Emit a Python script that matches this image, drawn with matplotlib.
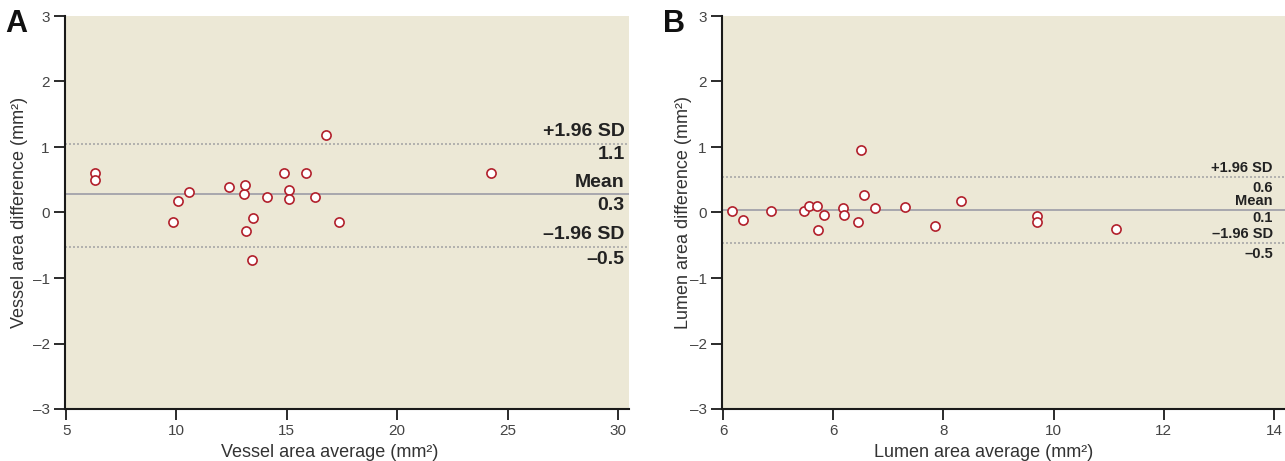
import matplotlib
matplotlib.use("Agg")
import matplotlib.pyplot as plt

# panel A: vessel area (Bland-Altman)
vessel_avg = [6.31, 6.31, 9.85, 10.07, 10.56, 12.37, 13.04, 13.11, 13.15, 13.46,
              13.44, 14.11, 14.89, 15.09, 15.09, 15.89, 16.28, 16.76, 17.35, 24.26]
vessel_diff = [0.60, 0.49, -0.15, 0.17, 0.32, 0.39, 0.29, 0.42, -0.28, -0.09,
               -0.72, 0.23, 0.60, 0.35, 0.21, 0.61, 0.24, 1.18, -0.15, 0.60]
vessel_mean, vessel_hi, vessel_lo = 0.28, 1.05, -0.52
vessel_xticks = [5, 10, 15, 20, 25, 30]
vessel_xticklabels = ["5", "10", "15", "20", "25", "30"]

# panel B: lumen area
lumen_avg = [4.16, 4.36, 4.87, 5.47, 5.56, 5.70, 5.72, 5.84, 6.18, 6.19,
             6.44, 6.50, 6.56, 6.76, 7.31, 7.85, 8.31, 9.70, 9.70, 11.13]
lumen_diff = [0.02, -0.11, 0.03, 0.02, 0.10, 0.10, -0.26, -0.04, 0.07, -0.04,
              -0.14, 0.95, 0.26, 0.07, 0.08, -0.20, 0.17, -0.05, -0.15, -0.25]
lumen_mean, lumen_hi, lumen_lo = 0.04, 0.54, -0.47
lumen_xticks = [4, 6, 8, 10, 12, 14]
lumen_xticklabels = ["6", "6", "8", "10", "12", "14"]

yticks = [-3, -2, -1, 0, 1, 2, 3]

sans = ["Liberation Sans", "DejaVu Sans"]
bg = "#ece8d6"
red = "#b2202c"

fig = plt.figure(figsize=(12.85, 4.61), dpi=100)
axA = fig.add_axes([65 / 1285, 52 / 461, 564 / 1285, 393 / 461])
axB = fig.add_axes([722 / 1285, 52 / 461, 563 / 1285, 393 / 461])


def draw(ax, xs, ys, mean, hi, lo, xlim, xticks, xticklabels, xlabel, ylabel,
         xtext, labels, label_y, fsize):
    ax.set_facecolor(bg)
    ax.axhline(mean, color="#a2a2aa", lw=1.3, zorder=1)
    ax.axhline(hi, color="#a8a8a8", lw=1.2, ls=(0, (1.2, 1.2)), zorder=1)
    ax.axhline(lo, color="#a8a8a8", lw=1.2, ls=(0, (1.2, 1.2)), zorder=1)
    ax.plot(xs, ys, "o", ms=6.6, mfc="white", mec=red, mew=1.2, zorder=3)
    for txt, y in zip(labels, label_y):
        ax.text(xtext, y, txt, ha="right", va="center", fontsize=fsize,
                fontweight="bold", family=sans, color="#222222")
    ax.set_xlim(*xlim)
    ax.set_ylim(-3, 3)
    ax.set_xticks(xticks)
    ax.set_xticklabels(xticklabels)
    ax.set_yticks(yticks)
    ax.set_yticklabels([str(t).replace("-", "\u2013") for t in yticks])
    for s in ["top", "right"]:
        ax.spines[s].set_visible(False)
    for s in ["left", "bottom"]:
        ax.spines[s].set_linewidth(1.5)
        ax.spines[s].set_color("#1a1a1a")
    ax.tick_params(direction="out", length=8, width=1.3, color="#1a1a1a",
                   labelsize=11, labelcolor="#444444", pad=3)
    for lab in ax.get_xticklabels() + ax.get_yticklabels():
        lab.set_family(sans)
    ax.set_xlabel(xlabel, fontsize=13, family=sans, color="#333333")
    ax.set_ylabel(ylabel, fontsize=13, family=sans, color="#333333")


draw(axA, vessel_avg, vessel_diff, vessel_mean, vessel_hi, vessel_lo,
     (4.95, 30.5), vessel_xticks, vessel_xticklabels,
     "Vessel area average (mm\u00b2)", "Vessel area difference (mm\u00b2)",
     30.3, ["+1.96 SD", "1.1", "Mean", "0.3", "\u20131.96 SD", "\u20130.5"],
     [1.24, 0.88, 0.46, 0.10, -0.34, -0.72], 14)
draw(axB, lumen_avg, lumen_diff, lumen_mean, lumen_hi, lumen_lo,
     (3.98, 14.2), lumen_xticks, lumen_xticklabels,
     "Lumen area average (mm\u00b2)", "Lumen area difference (mm\u00b2)",
     13.98, ["+1.96 SD", "0.6", "Mean", "0.1", "\u20131.96 SD", "\u20130.5"],
     [0.68, 0.38, 0.18, -0.08, -0.33, -0.63], 10.5)

axA.xaxis.set_label_coords(0.47, -0.088)
axB.xaxis.set_label_coords(0.465, -0.088)
axA.yaxis.set_label_coords(-0.066, 0.5)
axB.yaxis.set_label_coords(-0.053, 0.5)

fig.text(16 / 1285, 1 - 24 / 461, "A", fontsize=22, fontweight="bold",
         family=sans, ha="center", va="center", color="#111111")
fig.text(674 / 1285, 1 - 24 / 461, "B", fontsize=22, fontweight="bold",
         family=sans, ha="center", va="center", color="#111111")

fig.savefig("out.png", dpi=100)
